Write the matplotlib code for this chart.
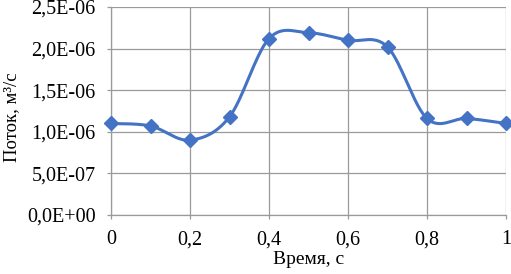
import numpy as np
import matplotlib
matplotlib.use("Agg")
import matplotlib.pyplot as plt

time_s = [0.0, 0.1, 0.2, 0.3, 0.4, 0.5, 0.6, 0.7, 0.8, 0.9, 1.0]
flow = [1.10e-6, 1.07e-6, 0.90e-6, 1.18e-6, 2.12e-6, 2.19e-6, 2.10e-6, 2.02e-6, 1.16e-6, 1.16e-6, 1.10e-6]
x_ticks = [0, 0.2, 0.4, 0.6, 0.8, 1.0]
x_labels = ["0", "0,2", "0,4", "0,6", "0,8", "1"]
y_ticks = [0.0, 0.5e-6, 1.0e-6, 1.5e-6, 2.0e-6, 2.5e-6]
y_labels = ["0,0E+00", "5,0E-07", "1,0E-06", "1,5E-06", "2,0E-06", "2,5E-06"]

plt.rcParams['font.family'] = ['Liberation Serif', 'DejaVu Serif']

def smooth(xs, ys, n=30):
    # Excel-style smoothed line (cardinal Bezier through the data points)
    xs = np.asarray(xs); ys = np.asarray(ys)
    px = np.concatenate([[xs[0]], xs, [xs[-1]]])
    py = np.concatenate([[ys[0]], ys, [ys[-1]]])
    ox, oy = [], []
    t = np.linspace(0, 1, n)
    for i in range(1, len(px) - 2):
        p0 = np.array([px[i], py[i]]); p3 = np.array([px[i+1], py[i+1]])
        p1 = p0 + (np.array([px[i+1], py[i+1]]) - np.array([px[i-1], py[i-1]])) / 6
        p2 = p3 - (np.array([px[i+2], py[i+2]]) - np.array([px[i], py[i]])) / 6
        b = ((1-t)**3)[:, None]*p0 + (3*(1-t)**2*t)[:, None]*p1 + (3*(1-t)*t**2)[:, None]*p2 + (t**3)[:, None]*p3
        ox.extend(b[:, 0]); oy.extend(b[:, 1])
    return ox, oy

fig = plt.figure(figsize=(5.11, 2.74), dpi=100)
ax = fig.add_axes([111/511, 1 - 215/274, (506-111)/511, (215-7)/274])

sx, sy = smooth(time_s, flow)
color = '#4472C4'
ax.plot(sx, sy, color=color, lw=2.2, zorder=3, clip_on=False)
ax.plot(time_s, flow, linestyle='none', marker='D', markersize=7, color=color, zorder=4, clip_on=False)

ax.set_xlim(0, 1)
ax.set_ylim(0, 2.5e-6)
ax.set_xticks(x_ticks)
ax.set_xticklabels(x_labels)
ax.set_yticks(y_ticks)
ax.set_yticklabels(y_labels)
ax.grid(True, color='#9a9a9a', lw=0.9)
ax.set_axisbelow(True)
for s in ['top', 'right']:
    ax.spines[s].set_visible(False)
for s in ['left', 'bottom']:
    ax.spines[s].set_color('#9a9a9a')
    ax.spines[s].set_linewidth(0.9)
ax.tick_params(axis='both', colors='#9a9a9a', length=3, width=0.9, labelsize=14.5, labelcolor='black')
ax.tick_params(axis='x', pad=8)
ax.tick_params(axis='y', pad=8)

ax.set_xlabel("Время, с", fontsize=14, labelpad=1.5)
ax.set_ylabel("Поток, м³/с", fontsize=13.5)
ax.yaxis.set_label_coords(-0.230, 0.47)

fig.savefig("out.png", dpi=100)
